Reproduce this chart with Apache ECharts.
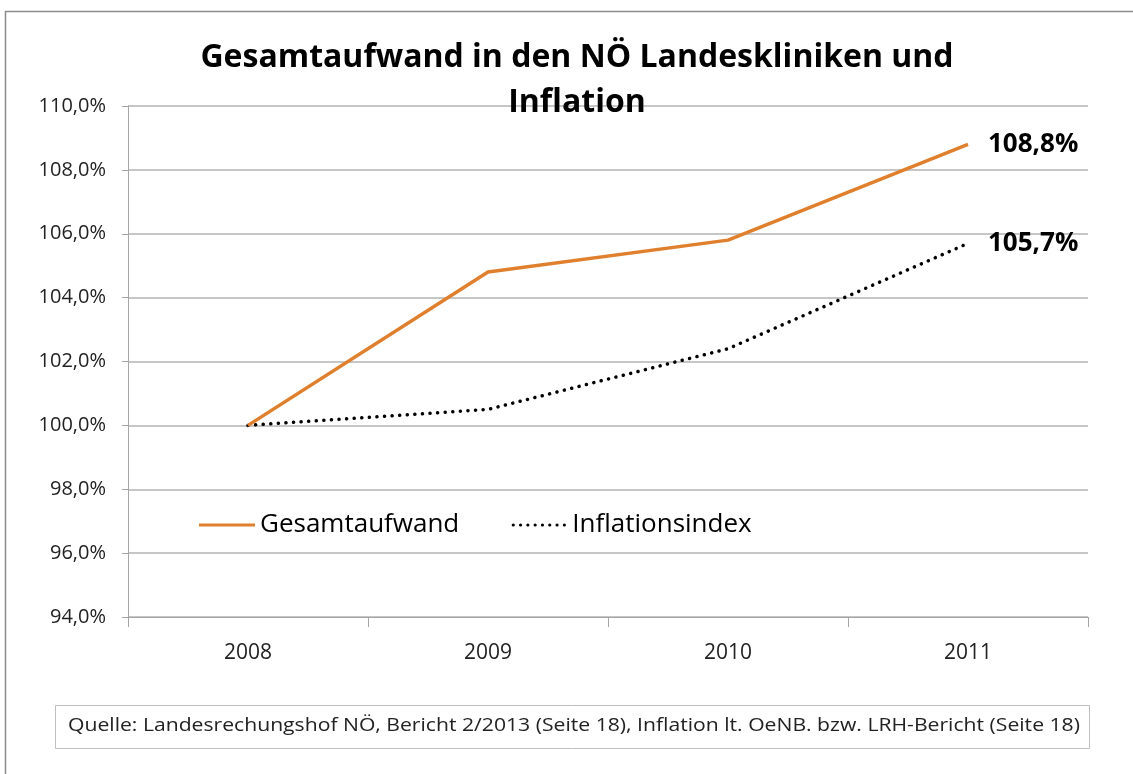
<!DOCTYPE html>
<html>
<head>
<meta charset="utf-8">
<script src="https://cdn.jsdelivr.net/npm/echarts@6/dist/echarts.min.js"></script>
<style>
  html, body { margin: 0; padding: 0; background: #fff; }
  #main { width: 1133px; height: 774px; }
</style>
</head>
<body>
<div id="main"></div>
<script>
var years = ['2008', '2009', '2010', '2011'];
var gesamtaufwand = [100.0, 104.8, 105.8, 108.8];
var inflation = [100.0, 100.5, 102.4, 105.7];
var yTicks = { min: 94, max: 110, step: 2 };

var myChart = echarts.init(document.getElementById('main'));

function fmtPct(v) {
    return v.toFixed(1).replace('.', ',') + '%';
}

// label at the end of each line
var endLbl = {
    show: true,
    distance: 20,
    color: '#000',
    fontFamily: 'Open Sans',
    fontWeight: 'bold',
    fontSize: 26,
    formatter: function (p) { return fmtPct(p.value); }
};

// dotted legend icon
var dots = '';
for (var i = 0; i < 8; i++) {
    var cx = 2 + i * 7.3;
    dots += 'M' + (cx - 1.6) + ',12 a1.6,1.6 0 1,0 3.2,0 a1.6,1.6 0 1,0 -3.2,0 ';
}

var option = {
    backgroundColor: '#fff',
    animation: false,
    title: {
        text: 'Gesamtaufwand in den NÖ Landeskliniken und\nInflation',
        left: 572,
        textAlign: 'center',
        top: 30,
        textStyle: {
            fontFamily: 'Open Sans',
            fontWeight: 'bold',
            fontSize: 32,
            lineHeight: 45,
            color: '#000'
        }
    },
    legend: {
        left: 194,
        top: 507,
        itemWidth: 56,
        itemHeight: 26,
        itemGap: 52,
        textStyle: { fontFamily: 'Open Sans', fontSize: 26, color: '#000' },
        data: [
            { name: 'Gesamtaufwand', icon: 'path://M0,11 L56,11 L56,14 L0,14 Z', itemStyle: { color: '#E0802E' } },
            { name: 'Inflationsindex', icon: 'path://M0,0 L0.01,0 ' + dots + 'M56,24 L56.01,24', itemStyle: { color: '#000' } }
        ]
    },
    grid: { left: 128, right: 45, top: 106, bottom: 157 },
    xAxis: {
        type: 'category',
        data: years,
        boundaryGap: true,
        axisLine: { lineStyle: { color: '#a6a6a6', width: 1 } },
        axisTick: { show: true, length: 10, lineStyle: { color: '#a6a6a6' } },
        axisLabel: { fontFamily: 'Open Sans', fontSize: 21, color: '#222', margin: 26 }
    },
    yAxis: {
        type: 'value',
        min: yTicks.min,
        max: yTicks.max,
        interval: yTicks.step,
        axisLine: { show: true, lineStyle: { color: '#a6a6a6', width: 1 } },
        axisTick: { show: true, length: 6, lineStyle: { color: '#a6a6a6' } },
        splitLine: { lineStyle: { color: '#b3b3b3', width: 1.5 } },
        axisLabel: {
            fontFamily: 'Open Sans', fontSize: 20, color: '#222', margin: 22,
            formatter: fmtPct
        }
    },
    series: [
        {
            name: 'Gesamtaufwand',
            type: 'line',
            data: gesamtaufwand,
            symbol: 'none',
            lineStyle: { color: '#E0802E', width: 3.5 },
            itemStyle: { color: '#E0802E' },
            endLabel: endLbl,
            z: 3
        },
        {
            name: 'Inflationsindex',
            type: 'line',
            data: inflation,
            symbol: 'none',
            lineStyle: { color: '#000', width: 3.5, type: [0.1, 7.5], cap: 'round' },
            itemStyle: { color: '#000' },
            endLabel: endLbl,
            z: 2
        }
    ],
    graphic: [
        {
            type: 'rect',
            shape: { x: 5.5, y: 11.5, width: 1140, height: 800 },
            style: { fill: 'none', stroke: '#8c8c8c', lineWidth: 1.5 },
            silent: true
        },
        {
            type: 'rect',
            shape: { x: 55.5, y: 705.5, width: 1034, height: 43 },
            style: { fill: '#fff', stroke: '#bfbfbf', lineWidth: 1 },
            silent: true
        },
        {
            type: 'text',
            x: 68,
            y: 717,
            scaleX: 1.175,
            style: {
                text: 'Quelle: Landesrechungshof NÖ, Bericht 2/2013 (Seite 18), Inflation lt. OeNB. bzw. LRH-Bericht (Seite 18)',
                fontFamily: 'Open Sans',
                fontSize: 18,
                fill: '#222'
            },
            silent: true
        }
    ]
};

myChart.setOption(option);
</script>
</body>
</html>
